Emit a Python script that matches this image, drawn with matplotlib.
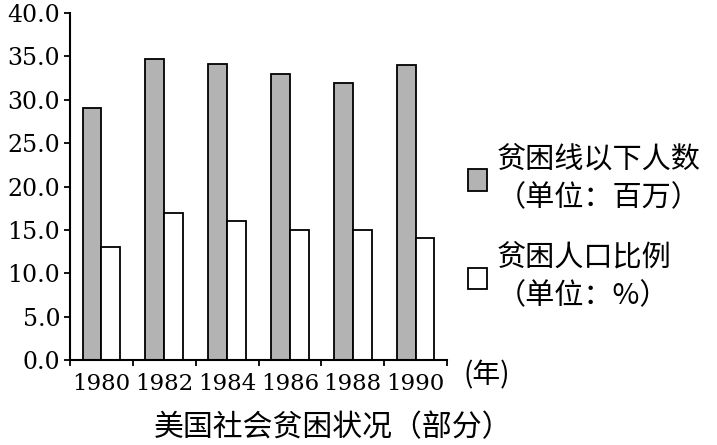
import numpy as np
import matplotlib.pyplot as plt

years = ['1980', '1982', '1984', '1986', '1988', '1990']
poor_people = [29.0, 34.7, 34.1, 33.0, 31.9, 34.0]   # 贫困线以下人数 (百万)
poor_rate = [13.0, 17.0, 16.0, 15.0, 15.0, 14.1]     # 贫困人口比例 (%)
label_people = '贫困线以下人数\n（单位：百万）'
label_rate = '贫困人口比例\n（单位：%）'
title = '美国社会贫困状况（部分）'

cjk = ['Noto Sans CJK SC', 'DejaVu Sans']
num_font = 'DejaVu Serif'

fig = plt.figure(figsize=(7.17, 4.45), dpi=100)
ax = fig.add_axes([70 / 717, 1 - 360 / 445, 377 / 717, 347 / 445])

x = np.arange(len(years))
w = 0.30
b1 = ax.bar(x - w / 2, poor_people, w, color='#b3b3b3', edgecolor='black', linewidth=1.3)
b2 = ax.bar(x + w / 2, poor_rate, w, color='white', edgecolor='black', linewidth=1.3)

ax.set_xlim(-0.5, len(years) - 0.5)
ax.set_ylim(0, 40)
ax.set_yticks(np.arange(0, 41, 5))
ax.set_yticklabels(['%.1f' % v for v in np.arange(0, 41, 5)], family=num_font, fontsize=17)
ax.set_xticks(x)
ax.set_xticklabels(years, family=num_font, fontsize=16.5)
ax.set_xticks(np.arange(-0.5, len(years), 1), minor=True)
ax.tick_params(axis='x', which='major', length=0, pad=9)
ax.tick_params(axis='x', which='minor', length=4, width=1.3, direction='out')
ax.tick_params(axis='y', length=4, width=1.3, pad=3)

for s in ['top', 'right']:
    ax.spines[s].set_visible(False)
for s in ['left', 'bottom']:
    ax.spines[s].set_linewidth(1.5)

fig.text(487 / 717, 1 - 375 / 445, '(年)', family=cjk, fontsize=20, ha='center', va='center')
fig.text(333 / 717, 1 - 428 / 445, title, family=cjk, fontsize=21.5, ha='center', va='center')

leg = fig.legend([b1, b2], [label_people, label_rate], loc='upper left',
                 bbox_to_anchor=(468 / 717, 1 - 144 / 445), frameon=False,
                 prop={'family': cjk, 'size': 21}, handlelength=0.65, handleheight=0.75,
                 handletextpad=0.35, labelspacing=1.0, borderpad=0, borderaxespad=0)
for t in leg.get_texts():
    t.set_linespacing(1.4)

fig.savefig('out.png', dpi=100)
